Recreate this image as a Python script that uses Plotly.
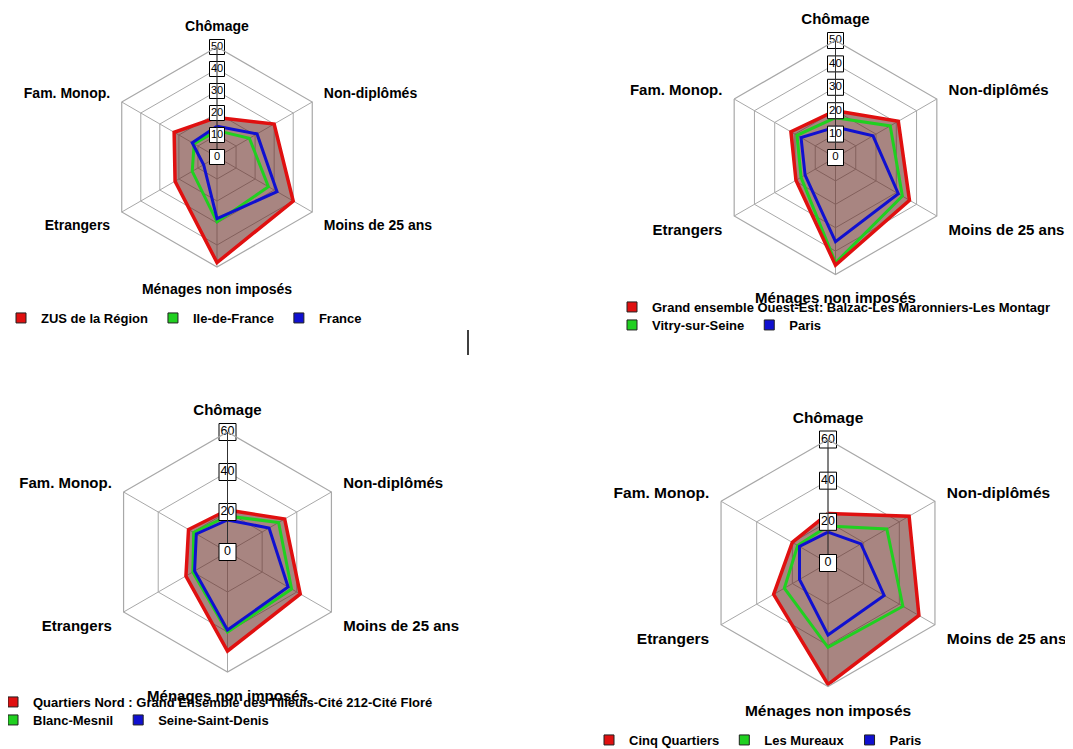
import plotly.graph_objects as go

# ---------------- data ----------------
categories = ["Chômage", "Non-diplômés", "Moins de 25 ans",
              "Ménages non imposés", "Etrangers", "Fam. Monop."]

# Chart 1 (top left)
c1_names = ["ZUS de la Région", "Ile-de-France", "France"]
c1_red = [18, 30, 40, 48, 22, 22.5]
c1_green = [12, 17, 27, 29.5, 13, 12]
c1_blue = [14, 21, 31.5, 28, 7, 13]
c1_ticks = [0, 10, 20, 30, 40, 50]

# Chart 2 (top right)
c2_names = ["Grand ensemble Ouest-Est: Balzac-Les Maronniers-Les Montagr",
            "Vitry-sur-Seine", "Paris"]
c2_red = [20, 31, 36.5, 46, 19.5, 22]
c2_green = [17, 27, 33, 45, 17, 19]
c2_blue = [13, 18.5, 31, 36, 15, 17]
c2_ticks = [0, 10, 20, 30, 40, 50]

# Chart 3 (bottom left)
c3_names = ["Quartiers Nord : Grand Ensemble des Tilleuls-Cité 212-Cité Floré",
            "Blanc-Mesnil", "Seine-Saint-Denis"]
c3_red = [21, 33, 42, 49.5, 24, 22.5]
c3_green = [18, 29.5, 37, 40, 20, 19.5]
c3_blue = [16, 24, 35, 39, 19, 18]
c3_ticks = [0, 20, 40, 60]

# Chart 4 (bottom right)
c4_names = ["Cinq Quartiers", "Les Mureaux", "Paris"]
c4_red = [24, 45.5, 51, 59, 30.5, 20]
c4_green = [18, 33, 42, 41, 24.5, 17]
c4_blue = [15, 18.5, 31.5, 35, 16, 16]
c4_ticks = [0, 20, 40, 60]

# ---------------- style ----------------
VW, VH = 1073, 749          # browser window
OFF = 8                     # default page body margin
W, H = VW - OFF, VH - OFF   # figure size so that it fits the window
RED, GREEN, BLUE = "#e01010", "#20d020", "#1010d0"
FILL = "rgba(102,40,34,0.57)"
GRID = "#a8a8a8"
FONT = "Liberation Sans"


def px_x(x):
    return (x - OFF) / W


def px_y(y):
    return 1 - (y - OFF) / H


def domain(cx, cy, r):
    return dict(x=[px_x(cx - r), px_x(cx + r)],
                y=[px_y(cy + r), px_y(cy - r)])


fig = go.Figure()

charts = [
    dict(pid="polar", oid="polar5", red=c1_red, green=c1_green, blue=c1_blue,
         names=c1_names, ticks=c1_ticks, center=(217, 157), r=110, fs=14,
         tfs=11, msize=15, legends=["legend", "legend", "legend"]),
    dict(pid="polar2", oid="polar6", red=c2_red, green=c2_green, blue=c2_blue,
         names=c2_names, ticks=c2_ticks, center=(835.5, 157.5), r=117, fs=15,
         tfs=11.5, msize=16, legends=["legend2", "legend3", "legend3"]),
    dict(pid="polar3", oid="polar7", red=c3_red, green=c3_green, blue=c3_blue,
         names=c3_names, ticks=c3_ticks, center=(227.5, 552), r=120, fs=15,
         tfs=12.5, msize=17, legends=["legend4", "legend5", "legend5"]),
    dict(pid="polar4", oid="polar8", red=c4_red, green=c4_green, blue=c4_blue,
         names=c4_names, ticks=c4_ticks, center=(828, 563), r=123.5, fs=15.5,
         tfs=12.5, msize=17, legends=["legend6", "legend6", "legend6"]),
]

theta_closed = categories + [categories[0]]

for ch in charts:
    pid = ch["pid"]
    red_closed = ch["red"] + [ch["red"][0]]
    # fill of the outer series
    fig.add_trace(go.Scatterpolar(
        r=red_closed, theta=theta_closed, subplot=pid,
        mode="lines", fill="toself", fillcolor=FILL, cliponaxis=False,
        line=dict(color=RED, width=0), showlegend=False, hoverinfo="skip"))
    for vals, col in ((ch["green"], GREEN), (ch["blue"], BLUE)):
        fig.add_trace(go.Scatterpolar(
            r=vals + [vals[0]], theta=theta_closed, subplot=pid,
            mode="lines", line=dict(color=col, width=3), cliponaxis=False,
            showlegend=False, hoverinfo="skip"))
    # outline of the outer series, on top
    fig.add_trace(go.Scatterpolar(
        r=red_closed, theta=theta_closed, subplot=pid,
        mode="lines", cliponaxis=False,
        line=dict(color=RED, width=3.5), showlegend=False, hoverinfo="skip"))
    # boxed radial tick labels along the Chômage axis; the centre one lives in
    # an overlaid polar subplot (same domain) so that it is not hidden at r = 0
    for sel, sub, clip in ((ch["ticks"][1:], pid, False),
                           (ch["ticks"][:1], ch["oid"], True)):
        fig.add_trace(go.Scatterpolar(
            r=sel, theta=[categories[0]] * len(sel), subplot=sub,
            mode="markers+text", text=[str(t) for t in sel],
            textposition="middle center",
            textfont=dict(family=FONT, size=ch["tfs"], color="black"),
            marker=dict(symbol="square", size=ch["msize"], color="white",
                        line=dict(color="black", width=1)),
            showlegend=False, hoverinfo="skip", cliponaxis=clip))
    # legend entries
    for name, col, lg in zip(ch["names"], (RED, GREEN, BLUE), ch["legends"]):
        fig.add_trace(go.Scatterpolar(
            r=[None], theta=[None], subplot=pid, name=name, mode="markers",
            marker=dict(symbol="square", size=10, color=col,
                        line=dict(color="#202020", width=1)),
            legend=lg, showlegend=True))

layout = dict(width=W, height=H,
              margin=dict(l=0, r=0, t=0, b=0, autoexpand=False),
              paper_bgcolor="white", plot_bgcolor="white",
              font=dict(family=FONT, color="black"))

for ch in charts:
    cx, cy = ch["center"]
    rmax = ch["ticks"][-1]
    dtick = ch["ticks"][1] - ch["ticks"][0]
    dom = domain(cx, cy, ch["r"])
    layout[ch["pid"]] = dict(
        domain=dom,
        bgcolor="white",
        gridshape="linear",
        radialaxis=dict(range=[0, rmax], tick0=0, dtick=dtick,
                        angle=90, showticklabels=False, ticks="",
                        showline=True, linecolor="#303030", linewidth=1,
                        gridcolor=GRID, gridwidth=1.2),
        angularaxis=dict(direction="clockwise", rotation=90,
                         categoryorder="array", categoryarray=categories,
                         showline=True, linecolor=GRID, linewidth=1.2,
                         gridcolor=GRID, gridwidth=1.2,
                         ticks="outside", ticklen=10,
                         tickcolor="rgba(0,0,0,0)",
                         tickfont=dict(family=FONT, size=ch["fs"],
                                       weight="bold", color="black")),
    )
    layout[ch["oid"]] = dict(
        domain=dom,
        bgcolor="rgba(0,0,0,0)",
        gridshape="linear",
        radialaxis=dict(range=[0, rmax], visible=False),
        angularaxis=dict(direction="clockwise", rotation=90,
                         categoryorder="array", categoryarray=categories,
                         visible=False),
    )

leg_font = dict(family=FONT, size=13, weight="bold", color="black")


def legend(xpx, ypx):
    return dict(orientation="h", x=px_x(xpx), y=px_y(ypx),
                xanchor="left", yanchor="middle", font=leg_font,
                bgcolor="rgba(0,0,0,0)", borderwidth=0, itemwidth=30,
                traceorder="normal")


layout["legend"] = legend(1, 318)
layout["legend2"] = legend(612, 307)
layout["legend3"] = legend(612, 325)
layout["legend4"] = legend(-7, 702)
layout["legend5"] = legend(-7, 720)
layout["legend6"] = legend(589, 740)

layout["shapes"] = [dict(type="line", xref="paper", yref="paper",
                         x0=px_x(468), x1=px_x(468), y0=px_y(330), y1=px_y(355),
                         line=dict(color="black", width=1.5))]

fig.update_layout(**layout)
fig.write_html("out.html")
